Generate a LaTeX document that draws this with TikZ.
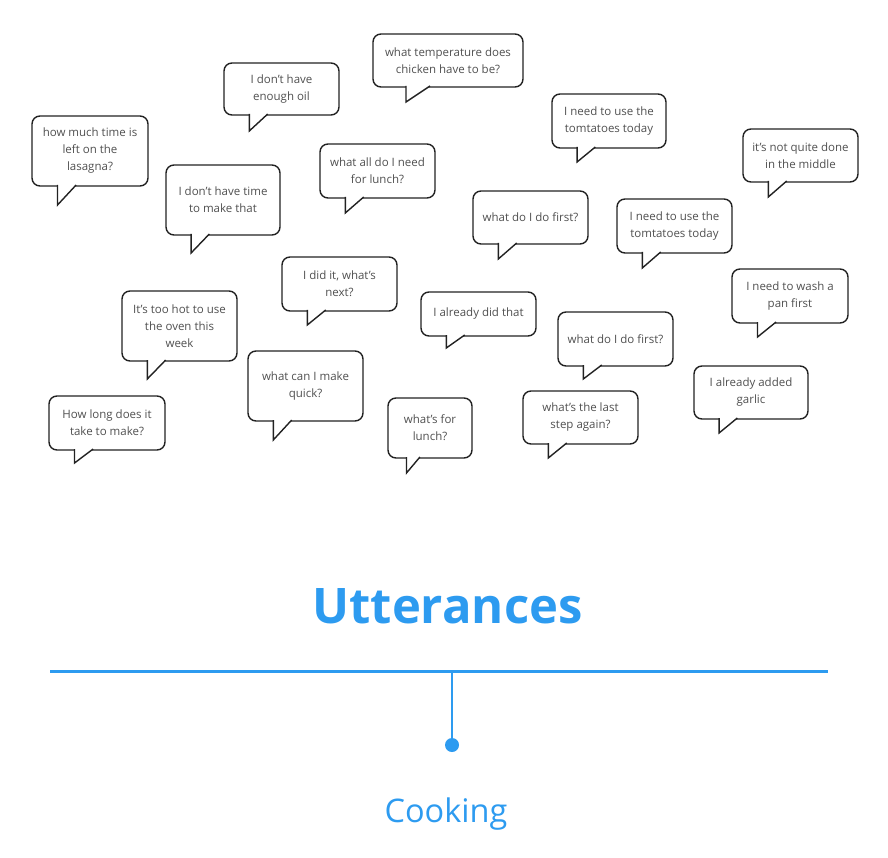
\documentclass[tikz,border=0pt]{standalone}
\usepackage{fontspec}
\setmainfont{Open Sans}
\usetikzlibrary{calc}

\definecolor{inkline}{HTML}{222222}
\definecolor{speech}{HTML}{505050}
\definecolor{accent}{HTML}{2D9BF0}

\tikzset{
  bubble/.style={rectangle, rounded corners=8pt, draw=inkline, line width=1.4pt,
    fill=white, inner sep=0pt, align=center, text=speech,
    font=\fontsize{11.5}{17}\selectfont},
  tail/.style={draw=inkline, line width=1.4pt, fill=white, line join=miter},
  bluerule/.style={draw=accent, line width=3pt},
  stemline/.style={draw=accent, line width=2.5pt},
}

% speech bubble: name, left, top, right, bottom, tail tip y, text
\newcommand\utterance[7]{%
  \pgfmathsetmacro\tailL{#2+0.22*(#4-#2)}%
  \pgfmathsetmacro\tailR{#2+0.38*(#4-#2)}%
  \node[bubble, minimum width={(#4-#2)*1pt}, minimum height={(#5-#3)*1pt}]
    (#1) at ({(#2+#4)/2},{(#3+#5)/2}) {#7};
  \draw[tail] (\tailL,{#5-1}) -- (\tailL,#6) -- (\tailR,{#5-1});
}

\begin{document}
\begin{tikzpicture}[x=1pt,y=-1pt]
\useasboundingbox (0,0) rectangle (888,858);

\utterance{b1}{32}{116}{148}{186}{205}{how much time is\\left on the\\lasagna?}
\utterance{b2}{373}{34}{523}{87}{102}{what temperature does\\chicken have to be?}
\utterance{b3}{224}{63}{339}{115}{131}{I don't have\\enough oil}
\utterance{b4}{166}{165}{280}{235}{253}{I don't have time\\to make that}
\utterance{b5}{320}{144}{435}{198}{213}{what all do I need\\for lunch?}
\utterance{b6}{552}{94}{666}{148}{162}{I need to use the\\tomtatoes today}
\utterance{b7}{743}{129}{858}{182}{197}{it's not quite done\\in the middle}
\utterance{b8}{473}{191}{588}{244}{259}{what do I do first?}
\utterance{b9}{617}{199}{732}{253}{268}{I need to use the\\tomtatoes today}
\utterance{b10}{282}{257}{397}{311}{325}{I did it, what's\\next?}
\utterance{b11}{122}{291}{237}{361}{379}{It's too hot to use\\the oven this\\week}
\utterance{b12}{421}{292}{536}{336}{348}{I already did that}
\utterance{b13}{732}{269}{848}{323}{337}{I need to wash a\\pan first}
\utterance{b14}{558}{312}{673}{366}{379}{what do I do first?}
\utterance{b15}{248}{351}{363}{421}{440}{what can I make\\quick?}
\utterance{b16}{49}{396}{165}{450}{463}{How long does it\\take to make?}
\utterance{b17}{388}{398}{472}{458}{473}{what's for\\lunch?}
\utterance{b18}{523}{391}{638}{444}{458}{what's the last\\step again?}
\utterance{b19}{694}{366}{808}{419}{433}{I already added\\garlic}

% heading, rule and category
\node[anchor=base, text=accent, font=\fontsize{49}{52}\selectfont\bfseries, inner sep=0pt]
  (title) at (447.5,623) {Utterances};
\coordinate (ruleL) at (50,671);
\coordinate (ruleR) at (828,671);
\coordinate (stem) at (452,671);
\node[circle, fill=accent, minimum size=14pt, inner sep=0pt] (dot) at (452,745) {};
\draw[bluerule] (ruleL) -- (ruleR);
\draw[stemline] (stem) -- (dot.center);
\node[anchor=base, text=accent, font=\fontsize{32.5}{36}\selectfont, inner sep=0pt]
  (cooking) at (446,822) {Cooking};
\end{tikzpicture}
\end{document}
